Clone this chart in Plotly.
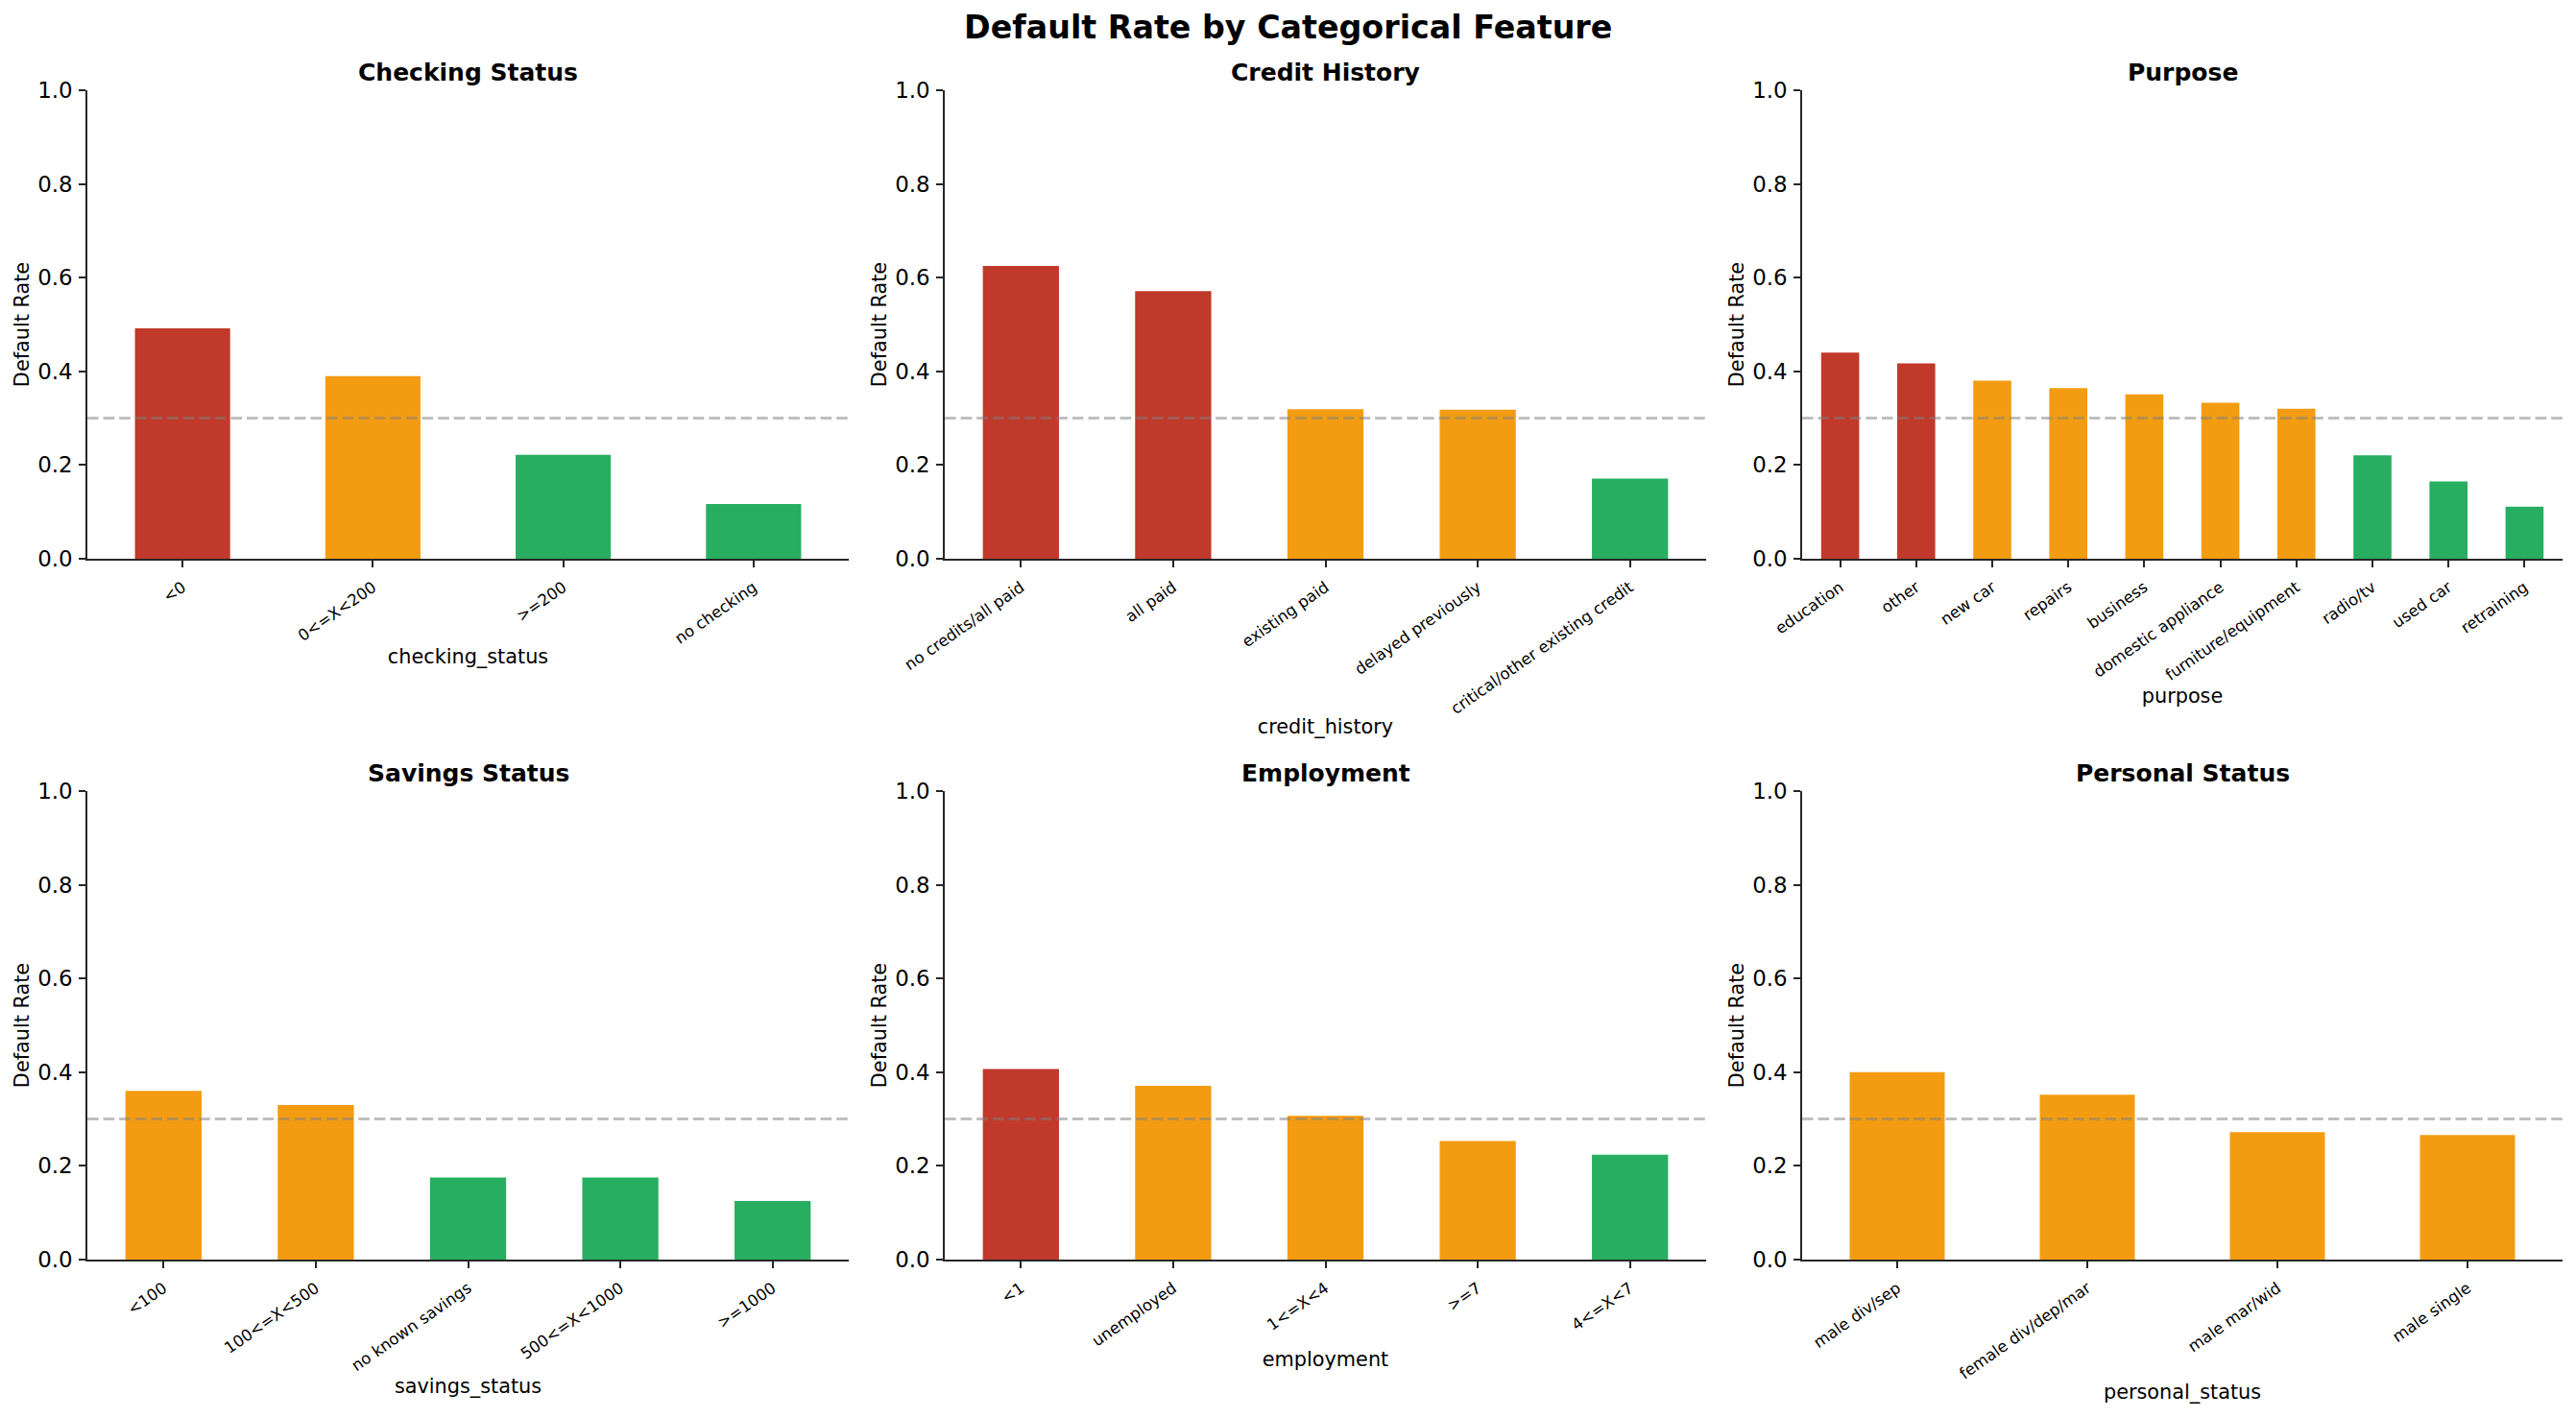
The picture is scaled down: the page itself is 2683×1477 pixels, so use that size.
import plotly.graph_objects as go

# ---------------- data ----------------
checking_cats = ["<0", "0<=X<200", ">=200", "no checking"]
checking_vals = [0.492, 0.390, 0.222, 0.117]

credit_cats = ["no credits/all paid", "all paid", "existing paid", "delayed previously",
               "critical/other existing credit"]
credit_vals = [0.625, 0.571, 0.319, 0.318, 0.171]

purpose_cats = ["education", "other", "new car", "repairs", "business", "domestic appliance",
                "furniture/equipment", "radio/tv", "used car", "retraining"]
purpose_vals = [0.440, 0.417, 0.380, 0.364, 0.351, 0.333, 0.320, 0.221, 0.165, 0.111]

savings_cats = ["<100", "100<=X<500", "no known savings", "500<=X<1000", ">=1000"]
savings_vals = [0.360, 0.330, 0.175, 0.175, 0.125]

employment_cats = ["<1", "unemployed", "1<=X<4", ">=7", "4<=X<7"]
employment_vals = [0.407, 0.371, 0.307, 0.253, 0.224]

personal_cats = ["male div/sep", "female div/dep/mar", "male mar/wid", "male single"]
personal_vals = [0.400, 0.352, 0.272, 0.266]

panel_titles = ["Checking Status", "Credit History", "Purpose",
                "Savings Status", "Employment", "Personal Status"]
panel_xlabels = ["checking_status", "credit_history", "purpose",
                 "savings_status", "employment", "personal_status"]
overall_rate = 0.3

panels = [
    (checking_cats, checking_vals),
    (credit_cats, credit_vals),
    (purpose_cats, purpose_vals),
    (savings_cats, savings_vals),
    (employment_cats, employment_vals),
    (personal_cats, personal_vals),
]

# ---------------- style ----------------
W, H = 2683, 1477
FONT = "DejaVu Sans"
RED, ORANGE, GREEN = "#c0392b", "#f39c12", "#27ae60"
AXC = "#262626"


def color_for(v):
    if v > 0.4:
        return RED
    if v > 0.25:
        return ORANGE
    return GREEN


col_px = [(91, 884), (984, 1777), (1877, 2669)]
row_px = [(94, 582), (824, 1312)]

fig = go.Figure()
layout = dict(
    width=W, height=H,
    margin=dict(l=0, r=0, t=0, b=0, autoexpand=False),
    paper_bgcolor="white", plot_bgcolor="white",
    showlegend=False, bargap=0.5,
    font=dict(family=FONT, color="black"),
    annotations=[], shapes=[],
)

for i, ((cats, vals), title, xlabel) in enumerate(zip(panels, panel_titles, panel_xlabels)):
    r, c = divmod(i, 3)
    k = "" if i == 0 else str(i + 1)
    x0p, x1p = col_px[c]
    y0p, y1p = row_px[r]
    fig.add_trace(go.Bar(
        x=cats, y=vals, marker=dict(color=[color_for(v) for v in vals], line=dict(width=0)),
        xaxis="x" + k, yaxis="y" + k,
    ))
    layout["xaxis" + k] = dict(
        domain=[x0p / W, x1p / W], anchor="y" + k, type="category", automargin=False,
        showline=True, linecolor=AXC, linewidth=1.7, mirror=False,
        ticks="outside", ticklen=7, tickwidth=1.7, tickcolor=AXC,
        tickangle=-35, tickfont=dict(size=16.5, family=FONT, color="black"),
        ticklabelstandoff=5,
        showgrid=False, zeroline=False,
        title=dict(text=xlabel, font=dict(size=20.8, family=FONT, color="black"), standoff=3),
    )
    layout["yaxis" + k] = dict(
        domain=[1 - y1p / H, 1 - y0p / H], anchor="x" + k, automargin=False,
        range=[0, 1], tickvals=[0, 0.2, 0.4, 0.6, 0.8, 1.0], tickformat=".1f",
        showline=True, linecolor=AXC, linewidth=1.7,
        ticks="outside", ticklen=7, tickwidth=1.7, tickcolor=AXC,
        tickfont=dict(size=22.9, family=FONT, color="black"),
        ticklabelstandoff=2,
        showgrid=False, zeroline=False,
        title=dict(text="Default Rate", font=dict(size=20.8, family=FONT, color="black"), standoff=3),
    )
    layout["shapes"].append(dict(
        type="line", xref="x" + k + " domain", yref="y" + k,
        x0=0, x1=1, y0=overall_rate, y1=overall_rate,
        line=dict(color="rgba(128,128,128,0.5)", width=3, dash="11.6px,5px"),
        layer="above",
    ))
    layout["annotations"].append(dict(
        text="<b>" + title + "</b>", xref="paper", yref="paper",
        x=(x0p + x1p) / 2 / W, y=1 - (y0p - 19) / H,
        xanchor="center", yanchor="middle", showarrow=False,
        font=dict(size=25, family=FONT, color="black"),
    ))

layout["annotations"].append(dict(
    text="<b>Default Rate by Categorical Feature</b>", xref="paper", yref="paper",
    x=0.5, y=1 - 29 / H, xanchor="center", yanchor="middle", showarrow=False,
    font=dict(size=33.3, family=FONT, color="black"),
))

fig.update_layout(**layout)
fig.write_html("out.html")
